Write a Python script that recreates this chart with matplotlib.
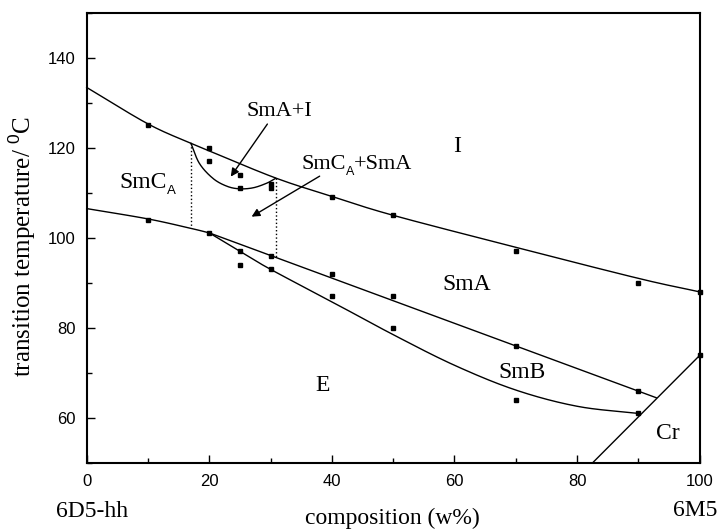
import matplotlib
matplotlib.use('Agg')
import matplotlib.pyplot as plt
import numpy as np

# measured transition temperatures (composition w% of 6M5)
iso_x = [10, 20, 25, 30, 40, 50, 70, 90, 100]
iso_y = [125, 120, 114, 112, 109, 105, 97, 90, 88]
dome_x = [20, 25, 30]
dome_y = [117, 111, 111]
sma_x = [10, 20, 25, 30, 40, 50, 70, 90]
sma_y = [104, 101, 97, 96, 92, 87, 76, 66]
smb_x = [25, 30, 40, 50, 70, 90]
smb_y = [94, 93, 87, 80, 64, 61]
cr_x = [100]
cr_y = [74]

# phase boundaries
iso_line_x = [0, 10, 17, 20, 30.8, 40, 50, 70, 90, 100]
iso_line_y = [133.4, 125.3, 121.0, 119.3, 113.3, 109.2, 105.0, 97.9, 91.0, 88.0]
smca_line_x = [0, 10, 17, 20]
smca_line_y = [106.5, 104.2, 102.1, 101.1]
sma_line_x = [20, 92.9]
sma_line_y = [101.1, 64.5]
e_line_x = [20, 25, 30, 40, 50, 60, 70, 80, 90]
e_line_y = [101.1, 97.0, 93.0, 85.8, 78.5, 71.7, 66.2, 62.6, 61.0]
dome_line_x = [17, 18.4, 20.6, 22.8, 24.8, 27.1, 29.3, 30.8]
dome_line_y = [121.0, 116.5, 113.2, 111.5, 110.9, 111.1, 112.1, 113.2]
cr_line_x = [82.5, 100]
cr_line_y = [50, 73.9]
dot_left_x = [17, 17]
dot_left_y = [121.0, 102.1]
dot_right_x = [30.8, 30.8]
dot_right_y = [113.3, 95.8]


def smooth(xs, ys, n=25): # Catmull-Rom through the nodes
    p = np.column_stack([xs, ys]).astype(float)
    if len(p) < 3: return p[:, 0], p[:, 1]
    p = np.vstack([2 * p[0] - p[1], p, 2 * p[-1] - p[-2]])
    t = np.linspace(0, 1, n, endpoint=False)[:, None]
    out = []
    for i in range(1, len(p) - 2):
        p0, p1, p2, p3 = p[i - 1], p[i], p[i + 1], p[i + 2]
        out.append(0.5 * (2 * p1 + (-p0 + p2) * t + (2 * p0 - 5 * p1 + 4 * p2 - p3) * t ** 2
                          + (-p0 + 3 * p1 - 3 * p2 + p3) * t ** 3))
    out.append(p[-2][None])
    out = np.vstack(out)
    return out[:, 0], out[:, 1]


plt.rcParams['mathtext.fontset'] = 'custom'
plt.rcParams['mathtext.rm'] = 'Liberation Serif'
plt.rcParams['mathtext.sf'] = 'Liberation Sans'
serif = 'Liberation Serif'
sans = 'Liberation Sans'

fig = plt.figure(figsize=(7.21, 5.29), dpi=100)
ax = fig.add_axes([86.7 / 721, 1 - 463 / 529, 613 / 721, 450.3 / 529])
renderer = fig.canvas.get_renderer()


def chain_text(x, y, parts): # pieces of text side by side, each (text, family, size, drop in points)
    dx = 0.0
    for txt, fam, size, dy in parts:
        t = ax.annotate(txt, xy=(x, y), xytext=(dx, dy), textcoords='offset points', family=fam, fontsize=size)
        dx += t.get_window_extent(renderer=renderer).width * 72 / fig.dpi


for xs, ys in [(iso_line_x, iso_line_y), (smca_line_x, smca_line_y), (sma_line_x, sma_line_y),
               (e_line_x, e_line_y), (dome_line_x, dome_line_y), (cr_line_x, cr_line_y)]:
    sx, sy = smooth(xs, ys)
    ax.plot(sx, sy, color='k', lw=1.0, clip_on=False)
ax.plot(dot_left_x, dot_left_y, color='k', lw=1.0, ls=':')
ax.plot(dot_right_x, dot_right_y, color='k', lw=1.0, ls=':')

for xs, ys in [(iso_x, iso_y), (dome_x, dome_y), (sma_x, sma_y), (smb_x, smb_y), (cr_x, cr_y)]:
    ax.plot(xs, ys, 's', color='k', ms=3, clip_on=False)

ax.set_xlim(0, 100)
ax.set_ylim(50, 150)
ax.set_xticks(np.arange(0, 101, 20))
ax.set_xticks(np.arange(10, 100, 20), minor=True)
ax.set_yticks(np.arange(60, 141, 20))
ax.set_yticks(np.arange(50, 151, 10), minor=True)
ax.tick_params(which='major', direction='in', length=6, width=1, pad=8, labelsize=12)
ax.tick_params(which='minor', direction='in', length=3.5, width=1)
for lab in ax.get_xticklabels() + ax.get_yticklabels():
    lab.set_family(sans)
for s in ax.spines.values():
    s.set_linewidth(1.5)

ax.set_ylabel('transition temperature/ $^\\mathsf{0}$C', family=serif, fontsize=18)
ax.yaxis.set_label_coords(-0.08, 0.48)

# phase labels
ax.text(60.4, 119.1, 'I', family=serif, fontsize=17, ha='center')
chain_text(5.4, 111.0, [('SmC', serif, 17, 0), ('A', sans, 9.5, -4)])
ax.text(62.0, 88.5, 'SmA', family=serif, fontsize=17, ha='center')
ax.text(71.0, 68.9, 'SmB', family=serif, fontsize=17, ha='center')
ax.text(38.4, 65.9, 'E', family=serif, fontsize=17, ha='center')
ax.text(94.8, 55.4, 'Cr', family=serif, fontsize=17, ha='center')

ax.annotate('SmA+I', xy=(23.5, 113.6), xytext=(31.4, 127.0), family=serif, fontsize=16, ha='center',
            arrowprops=dict(arrowstyle='-|>', color='k', lw=1.0, mutation_scale=12, shrinkA=0, shrinkB=0,
                            relpos=(0.35, 0)))
chain_text(35.0, 115.2, [('SmC', serif, 16, 0), ('A', sans, 9, -4), ('+SmA', serif, 16, 0)])
ax.annotate('', xy=(26.9, 104.7), xytext=(38.0, 113.7),
            arrowprops=dict(arrowstyle='-|>', color='k', lw=1.0, mutation_scale=12, shrinkA=0, shrinkB=0))

fig.text(91.7 / 721, 1 - 517 / 529, '6D5-hh', family=serif, fontsize=17, ha='center', va='baseline')
fig.text(695 / 721, 1 - 516 / 529, '6M5', family=serif, fontsize=17, ha='center', va='baseline')
fig.text(392 / 721, 1 - 524 / 529, 'composition (w%)', family=serif, fontsize=17, ha='center', va='baseline')

fig.savefig('out.png', dpi=100)
